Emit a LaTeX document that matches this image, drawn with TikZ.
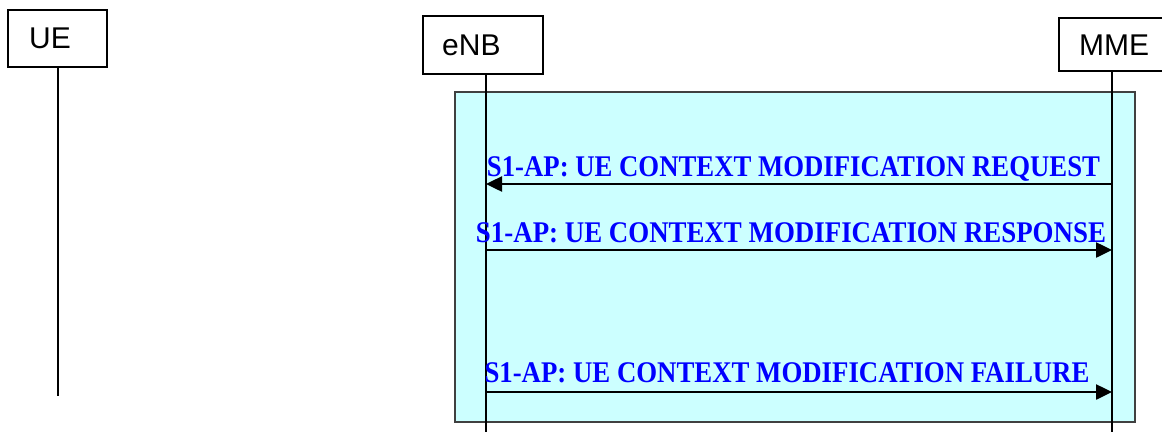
\documentclass[tikz,border=0pt]{standalone}
\usepackage{fontspec}
\setmainfont{Liberation Serif}
\newfontfamily\arialfont{Liberation Sans}
\usetikzlibrary{arrows.meta}
\definecolor{boxcyan}{RGB}{204,255,255}
\definecolor{msgblue}{RGB}{0,0,255}
\tikzset{
  entity/.style={draw=black, line width=2pt, fill=white, inner sep=0pt},
  entitytext/.style={anchor=base west, inner sep=0pt, font=\arialfont\fontsize{30}{30}\selectfont},
  lifeline/.style={draw=black, line width=2pt},
  msg/.style={draw=black, line width=2.5pt, -{Triangle[length=16pt,width=15pt]}},
  msglabel/.style={anchor=base, inner sep=0pt, text=msgblue},
}
\newcommand{\msgtext}[2]{\resizebox{#1}{\height}{\fontsize{30}{30}\selectfont\bfseries #2}}
\begin{document}
\begin{tikzpicture}[x=1pt,y=-1pt]
\useasboundingbox (0,0) rectangle (1162,432);
% background procedure box
\draw[draw=black!75, line width=2.5pt, fill=boxcyan] (455,92) rectangle (1135,422);
% entity boxes
\node[entity, minimum width=99pt, minimum height=57pt] (ue) at (57.5,38.5) {};
\node[entitytext] (uet) at (29,48) {UE};
\node[entity, minimum width=120pt, minimum height=58pt] (enb) at (483,45) {};
\node[entitytext] (enbt) at (442,55) {eNB};
\node[entity, minimum width=120pt, minimum height=53pt] (mme) at (1119,44.5) {};
\node[entitytext] (mmet) at (1079,55) {MME};
% lifeline ends
\coordinate (uee) at (57.5,396);
\coordinate (enbe) at (486,432);
\coordinate (mmee) at (1112,432);
\draw[lifeline] (ue.south) -- (uee);
\draw[lifeline] (enb.south -| enbe) -- (enbe);
\draw[lifeline] (mme.south -| mmee) -- (mmee);
% message points
\coordinate (e1) at (486,184); \coordinate (m1) at (1112,184);
\coordinate (e2) at (486,250); \coordinate (m2) at (1112,250);
\coordinate (e3) at (486,392); \coordinate (m3) at (1112,392);
\draw[msg] (m1) -- (e1);
\draw[msg] (e2) -- (m2);
\draw[msg] (e3) -- (m3);
\node[msglabel] (l1) at (793.5,176.5) {\msgtext{613pt}{S1-AP: UE CONTEXT MODIFICATION REQUEST}};
\node[msglabel] (l2) at (791,242) {\msgtext{630pt}{S1-AP: UE CONTEXT MODIFICATION RESPONSE}};
\node[msglabel] (l3) at (787,382) {\msgtext{605pt}{S1-AP: UE CONTEXT MODIFICATION FAILURE}};
\end{tikzpicture}
\end{document}
